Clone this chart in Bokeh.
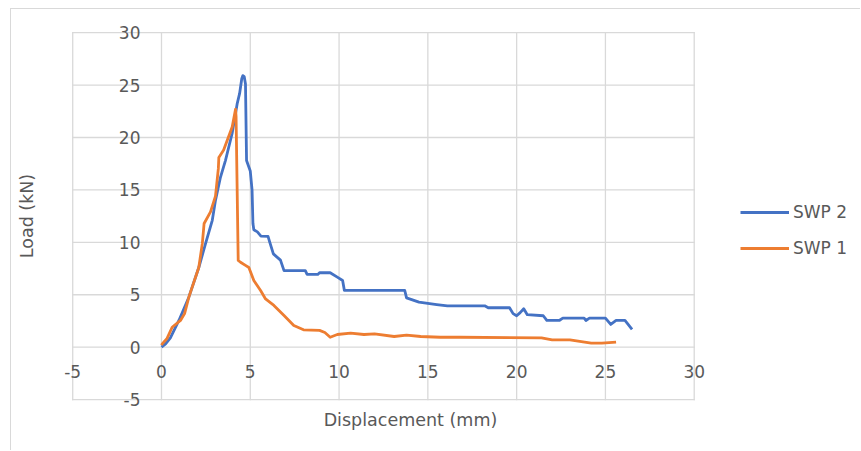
import math
from bokeh.plotting import figure
from bokeh.models import Legend, LegendItem, Label, FixedTicker, Range1d, CustomJSTickFormatter
from bokeh.embed import file_html
from bokeh.resources import INLINE

# ---- data ----
x_ticks = [-5, 0, 5, 10, 15, 20, 25, 30]
y_ticks = [-5, 0, 5, 10, 15, 20, 25, 30]

swp2_disp = [0, 0.23, 0.5, 0.98, 1.54, 2.1, 2.48, 2.86, 3.04, 3.32, 3.6, 3.98, 4.26, 4.4, 4.52, 4.58,
             4.66, 4.73, 4.79, 5.0, 5.1, 5.15, 5.2, 5.4, 5.6, 6.0, 6.1, 6.3, 6.7, 6.9, 8.1, 8.2, 8.8,
             8.9, 9.5, 9.9, 10.2, 10.3, 13.7, 13.8, 14.5, 15.5, 16.1, 18.2, 18.4, 19.6, 19.8, 20.0,
             20.2, 20.4, 20.6, 21.5, 21.7, 22.4, 22.6, 23.8, 23.9, 24.1, 25.0, 25.3, 25.6, 26.1, 26.5]
swp2_load = [0, 0.32, 0.9, 2.55, 4.77, 7.6, 9.87, 12.1, 14.0, 16.2, 17.8, 20.4, 23.2, 24.2, 25.6, 25.9,
             25.8, 25.1, 17.8, 16.8, 15.0, 11.8, 11.2, 11.0, 10.6, 10.56, 10.0, 8.9, 8.3, 7.3, 7.3, 6.94, 6.94,
             7.1, 7.1, 6.68, 6.36, 5.41, 5.41, 4.71, 4.3, 4.07, 3.95, 3.95, 3.76, 3.76, 3.2, 3.0,
             3.3, 3.66, 3.1, 3.0, 2.55, 2.55, 2.77, 2.77, 2.55, 2.77, 2.77, 2.17, 2.55, 2.55, 1.69]

swp1_disp = [0, 0.04, 0.3, 0.6, 1.07, 1.3, 1.54, 2.1, 2.3, 2.4, 2.76, 3.04, 3.2, 3.23, 3.5, 3.98, 4.17,
             4.2, 4.32, 4.45, 4.73, 4.92, 5.2, 5.58, 5.86, 6.33, 6.9, 7.45, 8.0, 8.9, 9.2, 9.5, 9.9,
             10.65, 11.4, 12.0, 13.1, 13.8, 14.6, 15.7, 16.8, 21.4, 22.0, 23.0, 24.2, 24.8, 25.6]
swp1_load = [0.2, 0.32, 0.8, 1.9, 2.55, 3.2, 4.77, 7.6, 9.9, 11.8, 12.9, 14.4, 17.0, 18.1, 18.8, 21.0, 22.7,
             22.0, 8.27, 8.1, 7.8, 7.6, 6.36, 5.4, 4.6, 3.98, 3.02, 2.07, 1.66, 1.6, 1.4, 0.95, 1.21,
             1.34, 1.21, 1.27, 1.02, 1.15, 1.02, 0.95, 0.95, 0.89, 0.7, 0.7, 0.38, 0.38, 0.48]

series_names = ["SWP 2", "SWP 1"]
x_title = "Displacement (mm)"
y_title = "Load (kN)"

FONT = "DejaVu Sans"
TXT = "#595959"
GRID = "#d9d9d9"
BLUE = "#4472C4"
ORANGE = "#ED7D31"

# whole canvas is the frame; ranges chosen so that the -5..30 box sits where the reference has it
W, H = 850, 442
p = figure(width=W, height=H,
           x_range=Range1d(-8.447, 39.421), y_range=Range1d(-9.947, 32.205),
           output_backend="svg", toolbar_location=None,
           min_border_left=0, min_border_top=0, min_border_right=0, min_border_bottom=0)
p.styles = {"margin-left": "10px", "margin-top": "8px",
            "border-top": "1px solid #d9d9d9", "border-left": "1px solid #d9d9d9"}
p.background_fill_color = "white"
p.border_fill_color = "white"
p.outline_line_color = None
p.grid.visible = False

# plot-area grid (box -5..30 on both axes)
n_x, n_y = len(x_ticks), len(y_ticks)
p.segment(x0=x_ticks, y0=[y_ticks[0]] * n_x, x1=x_ticks, y1=[y_ticks[-1]] * n_x,
          line_color=GRID, line_width=1.3, line_cap="square")
p.segment(x0=[x_ticks[0]] * n_y, y0=y_ticks, x1=[x_ticks[-1]] * n_y, y1=y_ticks,
          line_color=GRID, line_width=1.3, line_cap="square")

fmt = CustomJSTickFormatter(code="return String(tick);")
for ax, ticks in ((p.xaxis[0], x_ticks), (p.yaxis[0], y_ticks)):
    ax.ticker = FixedTicker(ticks=ticks)
    ax.formatter = fmt
    ax.fixed_location = 0
    ax.axis_line_color = None
    ax.major_tick_line_color = None
    ax.minor_tick_line_color = None
    ax.major_label_text_font = FONT
    ax.major_label_text_font_size = "17px"
    ax.major_label_text_color = TXT
p.xaxis.major_label_standoff = 12
p.yaxis.major_label_standoff = 15

r2 = p.line(swp2_disp, swp2_load, line_color=BLUE, line_width=2.8, line_join="round")
r1 = p.line(swp1_disp, swp1_load, line_color=ORANGE, line_width=2.8, line_join="round")

legend = Legend(items=[LegendItem(label=series_names[0], renderers=[r2]),
                       LegendItem(label=series_names[1], renderers=[r1])],
                location=(729, 193), orientation="vertical",
                glyph_width=49, glyph_height=20, label_height=20, spacing=16,
                padding=0, margin=0, border_line_color=None, background_fill_alpha=0,
                label_text_font=FONT, label_text_font_size="17px", label_text_color=TXT,
                label_standoff=4)
p.add_layout(legend)

p.add_layout(Label(x=14.02, y=-6.99, text=x_title, text_align="center", text_baseline="middle",
                   text_font=FONT, text_font_size="17.5px", text_color=TXT))
p.add_layout(Label(x=-7.55, y=12.51, text=y_title, text_align="center", text_baseline="middle",
                   angle=math.pi / 2, text_font=FONT, text_font_size="17.5px", text_color=TXT))

open("out.html", "w").write(file_html(p, INLINE))
